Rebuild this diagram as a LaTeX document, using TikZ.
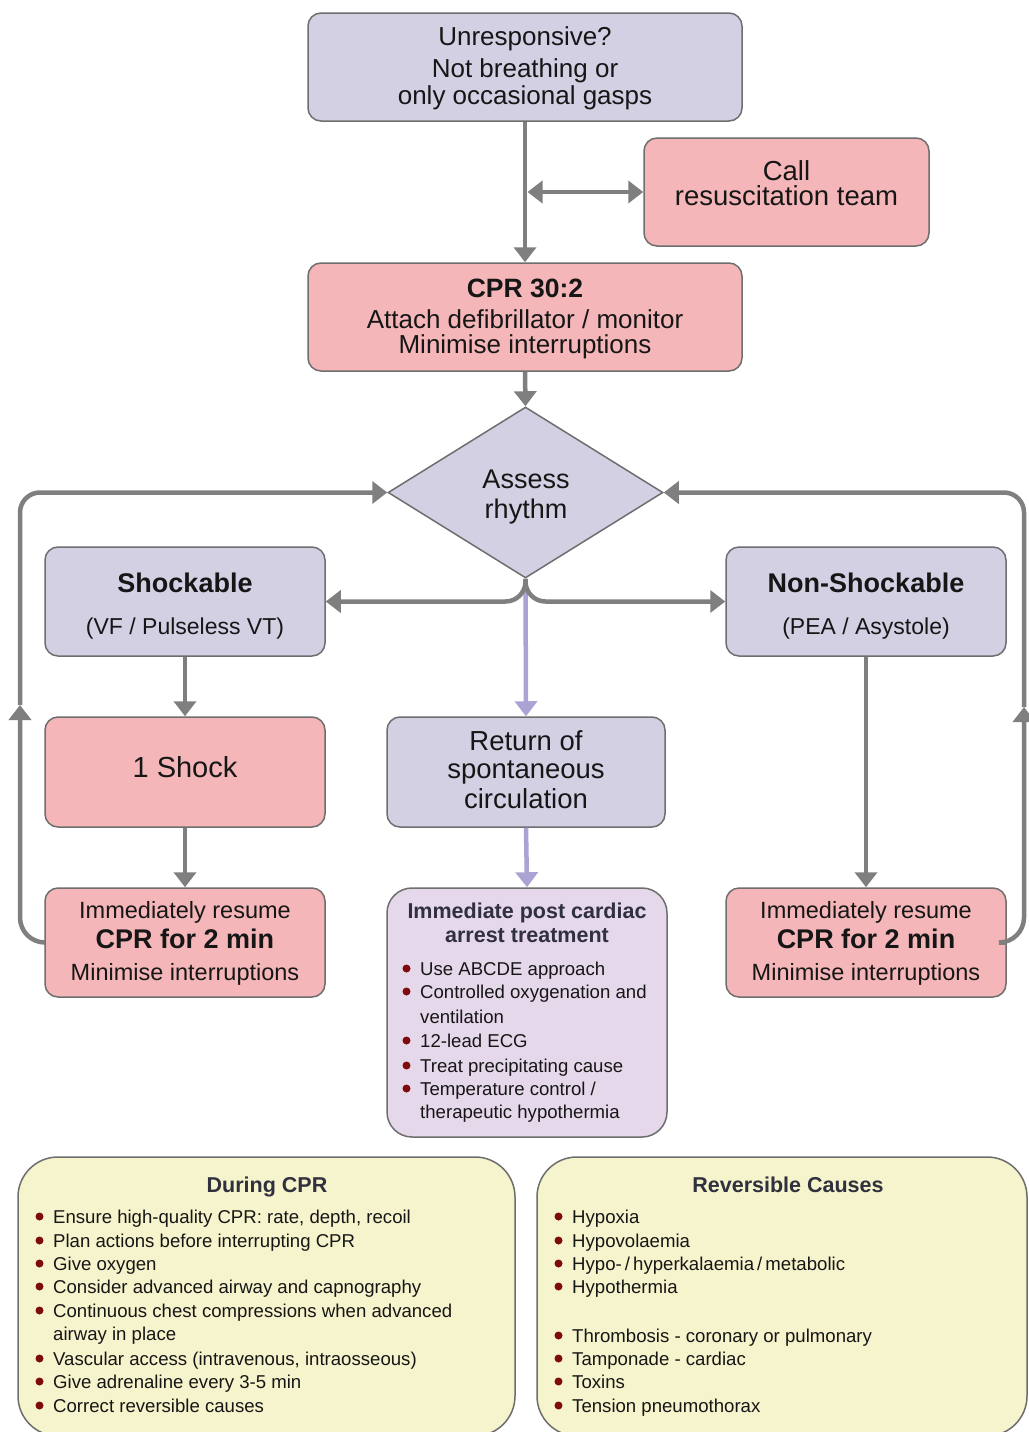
\documentclass[tikz,border=0pt]{standalone}
\usepackage{fontspec}
\setmainfont{Liberation Sans}
\usetikzlibrary{arrows.meta,shapes.geometric}
\definecolor{lavf}{HTML}{D3D0E4}
\definecolor{pinkf}{HTML}{F4B6B8}
\definecolor{postf}{HTML}{E6D8EB}
\definecolor{yelf}{HTML}{F6F4CC}
\definecolor{bord}{HTML}{6E6E6E}
\definecolor{arr}{HTML}{7F7F7F}
\definecolor{lavline}{HTML}{A9A4D4}
\definecolor{bulred}{HTML}{7E0B0B}
\definecolor{txtc}{HTML}{161616}
\definecolor{headc}{HTML}{30303E}
\newcommand\fs[2]{\fontsize{#1}{#2}\selectfont}
\newcommand\bulat[1]{\fill[bulred] ([xshift=-13.5pt,yshift=6.5pt]#1.base west) circle (4pt);}
\begin{document}
\begin{tikzpicture}[x=1pt,y=-1pt,
  bx/.style={draw=bord, line width=1.5pt, rounded corners=13pt, inner sep=0pt},
  lbox/.style={bx, fill=lavf},
  pbox/.style={bx, fill=pinkf},
  ln/.style={anchor=base, inner sep=0pt, text=txtc},
  hd/.style={anchor=base, inner sep=0pt, text=headc, font=\fs{21.5}{21.5}\bfseries},
  item/.style={anchor=base west, inner sep=0pt, text=txtc, font=\fs{18.6}{18.6}},
  conn/.style={draw=arr, line width=4.5pt, -{Triangle[width=22pt,length=15pt]}},
  dconn/.style={draw=arr, line width=4.5pt, {Triangle[width=22pt,length=15pt]}-{Triangle[width=22pt,length=15pt]}},
  lconn/.style={draw=lavline, line width=4.5pt, -{Triangle[width=22pt,length=15pt]}}]
\fill[white] (0,0) rectangle (1028,1432);
\useasboundingbox (0,0) rectangle (1028,1432);

% boxes
\node[lbox, minimum width=434pt, minimum height=108pt] (top) at (525,67) {};
\node[pbox, minimum width=285pt, minimum height=108pt] (call) at (786.5,192) {};
\node[pbox, minimum width=434pt, minimum height=108pt] (cpr) at (525,317) {};
\node[diamond, draw=bord, fill=lavf, line width=1.5pt, minimum width=275pt, minimum height=171pt, inner sep=0pt] (dia) at (525.5,492.5) {};
\node[lbox, minimum width=280pt, minimum height=109pt] (shock) at (185,601.5) {};
\node[lbox, minimum width=280pt, minimum height=109pt] (nons) at (866,601.5) {};
\node[pbox, minimum width=280pt, minimum height=110pt] (one) at (185,772) {};
\node[lbox, minimum width=278pt, minimum height=110pt] (rosc) at (526,772) {};
\node[pbox, minimum width=280pt, minimum height=109pt] (resL) at (185,942.5) {};
\node[pbox, minimum width=280pt, minimum height=109pt] (resR) at (866,942.5) {};
\node[bx, fill=postf, rounded corners=25pt, minimum width=280pt, minimum height=249pt] (post) at (527,1012.5) {};
\node[bx, fill=yelf, rounded corners=40pt, minimum width=497pt, minimum height=279pt] (during) at (266.5,1296.5) {};
\node[bx, fill=yelf, rounded corners=40pt, minimum width=490pt, minimum height=279pt] (rev) at (782,1296.5) {};

% connectors
\coordinate (tee) at (top.south |- call.west);
\draw[conn] (top.south) -- (cpr.north);
\draw[dconn] ([xshift=2.5pt]tee) -- (call.west);
\draw[conn] (cpr.south) -- (dia.north);
\draw[lconn] (dia.south) -- (rosc.north);
\draw[conn, rounded corners=20pt] (dia.south) |- (shock.east);
\draw[conn, rounded corners=20pt] (dia.south) |- (nons.west);
\draw[conn] (shock.south) -- (one.north);
\draw[conn] (one.south) -- (resL.north);
\draw[conn] (nons.south) -- (resR.north);
\draw[lconn] (rosc.south) -- (post.north);
\coordinate (lmid) at (20,705);
\coordinate (rmid) at (1024,707);
\draw[conn, rounded corners=25pt] (resL.west) -| (lmid);
\draw[conn, rounded corners=20pt] (lmid) |- (dia.west);
\draw[conn, rounded corners=25pt] (resR.east) -| (rmid);
\draw[conn, rounded corners=20pt] (rmid) |- (dia.east);

% texts
\node[ln, font=\fs{26}{26}] (t1) at (525,45) {Unresponsive?};
\node[ln, font=\fs{26}{26}] (t2) at (525,77) {Not breathing or};
\node[ln, font=\fs{26}{26}] (t3) at (525,104) {only occasional gasps};
\node[inner sep=0pt, text=txtc, align=center, font=\fs{27.5}{25.5}] (c1) at (786.5,183) {Call\\resuscitation team};
\node[ln, font=\fs{26.5}{26.5}\bfseries] (p1) at (525,297) {CPR 30:2};
\node[ln, font=\fs{26}{26}] (p2) at (525,328) {Attach defibrillator / monitor};
\node[ln, font=\fs{26}{26}] (p3) at (525,353) {Minimise interruptions};
\node[ln, font=\fs{27}{27}] (a1) at (526,488) {Assess};
\node[ln, font=\fs{27}{27}] (a2) at (526,518) {rhythm};
\node[ln, font=\fs{27}{27}\bfseries] (s1) at (185,592) {Shockable};
\node[ln, font=\fs{23}{23}] (s2) at (185,634) {(VF / Pulseless VT)};
\node[ln, font=\fs{27}{27}\bfseries] (n1) at (866,592) {Non-Shockable};
\node[ln, font=\fs{23}{23}] (n2) at (866,634) {(PEA / Asystole)};
\node[ln, font=\fs{29}{29}] (o1) at (185,777) {1 Shock};
\node[ln, font=\fs{27.5}{27.5}] (q1) at (526,750) {Return of};
\node[ln, font=\fs{27.5}{27.5}] (q2) at (526,778) {spontaneous};
\node[ln, font=\fs{27.5}{27.5}] (q3) at (526,808) {circulation};
\node[ln, font=\fs{23.5}{23.5}] (l1) at (185,918) {Immediately resume};
\node[ln, font=\fs{27}{27}\bfseries] (l2) at (185,948) {CPR for 2 min};
\node[ln, font=\fs{23.5}{23.5}] (l3) at (185,980) {Minimise interruptions};
\node[ln, font=\fs{23.5}{23.5}] (m1) at (866,918) {Immediately resume};
\node[ln, font=\fs{27}{27}\bfseries] (m2) at (866,948) {CPR for 2 min};
\node[ln, font=\fs{23.5}{23.5}] (m3) at (866,980) {Minimise interruptions};

% post cardiac arrest box
\node[hd] (h1) at (527,918) {Immediate post cardiac};
\node[hd] (h2) at (527,942) {arrest treatment};
\node[item] (e1) at (420,975) {Use ABCDE approach};
\node[item] (e2) at (420,998) {Controlled oxygenation and};
\node[item] (e3) at (420,1023) {ventilation};
\node[item] (e4) at (420,1047) {12-lead ECG};
\node[item] (e5) at (420,1072) {Treat precipitating cause};
\node[item] (e6) at (420,1095) {Temperature control /};
\node[item] (e7) at (420,1118) {therapeutic hypothermia};
\bulat{e1}\bulat{e2}\bulat{e4}\bulat{e5}\bulat{e6}

% during CPR
\node[hd] (dh) at (267,1192) {During CPR};
\node[item] (d1) at (53,1223) {Ensure high-quality CPR: rate, depth, recoil};
\node[item] (d2) at (53,1247) {Plan actions before interrupting CPR};
\node[item] (d3) at (53,1270) {Give oxygen};
\node[item] (d4) at (53,1293) {Consider advanced airway and capnography};
\node[item] (d5) at (53,1317) {Continuous chest compressions when advanced};
\node[item] (d6) at (53,1340) {airway in place};
\node[item] (d7) at (53,1365) {Vascular access (intravenous, intraosseous)};
\node[item] (d8) at (53,1388) {Give adrenaline every 3-5 min};
\node[item] (d9) at (53,1412) {Correct reversible causes};
\bulat{d1}\bulat{d2}\bulat{d3}\bulat{d4}\bulat{d5}\bulat{d7}\bulat{d8}\bulat{d9}

% reversible causes
\node[hd] (rh) at (788,1192) {Reversible Causes};
\node[item] (r1) at (572,1223) {Hypoxia};
\node[item] (r2) at (572,1247) {Hypovolaemia};
\node[item] (r3) at (572,1270) {Hypo-\,/\,hyperkalaemia\,/\,metabolic};
\node[item] (r4) at (572,1293) {Hypothermia};
\node[item] (r5) at (572,1342) {Thrombosis - coronary or pulmonary};
\node[item] (r6) at (572,1365) {Tamponade - cardiac};
\node[item] (r7) at (572,1388) {Toxins};
\node[item] (r8) at (572,1412) {Tension pneumothorax};
\bulat{r1}\bulat{r2}\bulat{r3}\bulat{r4}\bulat{r5}\bulat{r6}\bulat{r7}\bulat{r8}
\end{tikzpicture}
\end{document}
